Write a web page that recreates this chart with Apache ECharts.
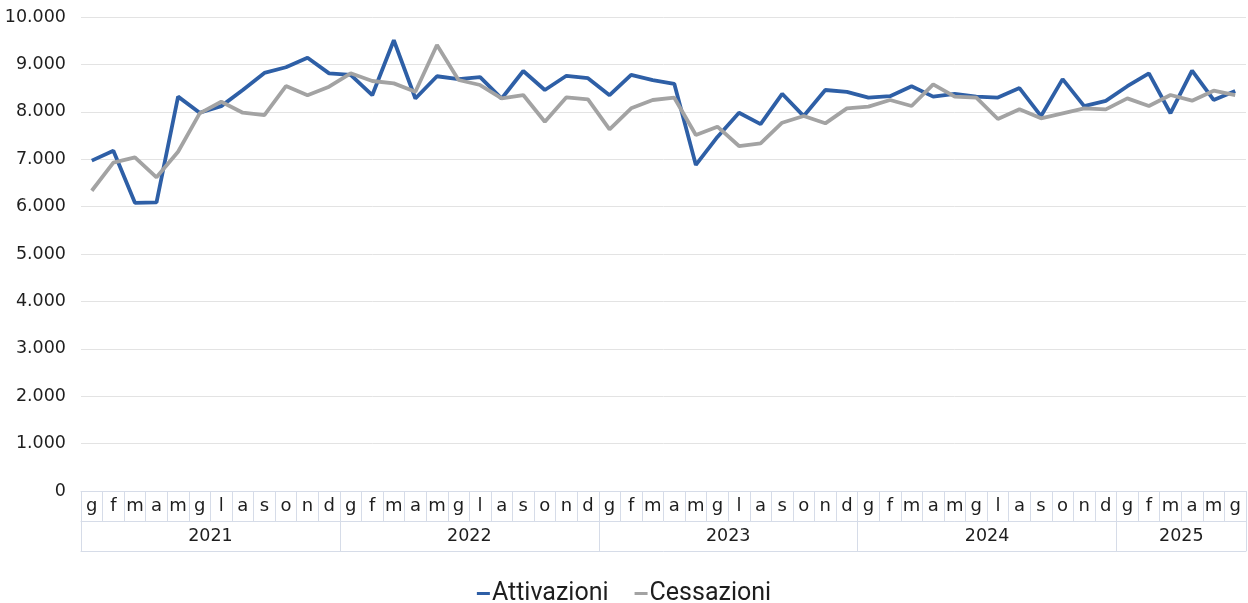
<!DOCTYPE html>
<html>
<head>
<meta charset="utf-8">
<script src="https://cdn.jsdelivr.net/npm/echarts@6/dist/echarts.min.js"></script>
<style>html,body{margin:0;padding:0;background:#fff}#c{width:1248px;height:603px}</style>
</head>
<body>
<div id="c"></div>
<script>
var years = ['2021','2022','2023','2024','2025'];
var months = ['g','f','m','a','m','g','l','a','s','o','n','d'];
var monthsPerYear = [12,12,12,12,6];
var yTicks = [0,1000,2000,3000,4000,5000,6000,7000,8000,9000,10000];
var attivazioni = [6970,7180,6080,6090,8320,7980,8120,8460,8820,8940,9140,8810,
                   8780,8350,9510,8280,8750,8690,8730,8280,8860,8460,8760,8710,
                   8350,8780,8670,8590,6880,7470,7980,7740,8380,7910,8460,8420,
                   8300,8330,8540,8320,8380,8320,8300,8500,7910,8690,8120,8230,
                   8540,8810,7970,8870,8250,8440];
var cessazioni = [6335,6926,7040,6618,7158,7968,8213,7981,7932,8544,8348,8530,
                  8812,8650,8600,8424,9409,8671,8565,8284,8354,7791,8305,8263,
                  7630,8073,8249,8298,7510,7686,7278,7335,7770,7911,7757,8073,
                  8108,8249,8122,8580,8319,8298,7848,8052,7862,7968,8073,8052,
                  8284,8122,8354,8234,8445,8354];

var categories = [];
var yearStarts = [0];
var yearCenters = [];
var pos = 0;
years.forEach(function(y, i){
  for (var k = 0; k < monthsPerYear[i]; k++) categories.push(y + '|' + months[k]);
  yearCenters.push(pos + monthsPerYear[i] / 2);
  pos += monthsPerYear[i];
  yearStarts.push(pos);
});
var total = pos;

var border = '#d6dce8';
var txt = '#1e1e1e';
var chart = echarts.init(document.getElementById('c'));
chart.setOption({
  animation: false,
  grid: {left: 81, right: 2, top: 17, bottom: 112, containLabel: false},
  legend: {
    bottom: -8, left: 'center',
    icon: 'rect', itemWidth: 13, itemHeight: 3, itemGap: 26,
    textStyle: {fontFamily: 'Roboto', fontSize: 25, color: txt, padding: [0,0,0,-3]},
    data: ['Attivazioni','Cessazioni']
  },
  xAxis: [
    {
      type: 'category', data: categories, boundaryGap: true, position: 'bottom',
      axisLine: {show: true, lineStyle: {color: border, width: 1}},
      axisTick: {show: true, interval: 0, length: 30, lineStyle: {color: border}},
      axisLabel: {interval: 0, margin: 6, fontFamily: 'DejaVu Sans', fontSize: 18, color: txt,
        formatter: function(v){ return v.split('|')[1]; }},
      splitLine: {show: false}
    },
    {
      type: 'value', min: 0, max: total, position: 'bottom', offset: 30,
      axisLine: {show: true, lineStyle: {color: border, width: 1}},
      axisTick: {show: true, length: 30, customValues: yearStarts, lineStyle: {color: border}},
      axisLabel: {show: true, margin: 6, fontFamily: 'DejaVu Sans', fontSize: 17.5, color: txt,
        customValues: yearCenters,
        formatter: function(v){ var i = yearCenters.indexOf(v); return i >= 0 ? years[i] : ''; }},
      splitLine: {show: false}
    },
    {
      type: 'value', min: 0, max: total, position: 'bottom', offset: 60,
      axisLine: {show: true, lineStyle: {color: border, width: 1}},
      axisTick: {show: false}, axisLabel: {show: false}, splitLine: {show: false}
    }
  ],
  yAxis: {
    type: 'value', min: yTicks[0], max: yTicks[yTicks.length-1], interval: 1000,
    axisLine: {show: false}, axisTick: {show: false},
    axisLabel: {margin: 15, fontFamily: 'DejaVu Sans', fontSize: 17.5, color: txt,
      formatter: function(v){ return String(v).replace(/\B(?=(\d{3})+(?!\d))/g, '.'); }},
    splitLine: {lineStyle: {color: '#e3e3e3', width: 1}}
  },
  series: [
    {name: 'Attivazioni', type: 'line', xAxisIndex: 0, data: attivazioni, showSymbol: false, symbol: 'none',
     lineStyle: {color: '#2e5fa6', width: 3.8}, itemStyle: {color: '#2e5fa6'}},
    {name: 'Cessazioni', type: 'line', xAxisIndex: 0, data: cessazioni, showSymbol: false, symbol: 'none',
     lineStyle: {color: '#a3a3a3', width: 3.8}, itemStyle: {color: '#a3a3a3'}}
  ]
});
</script>
</body>
</html>
